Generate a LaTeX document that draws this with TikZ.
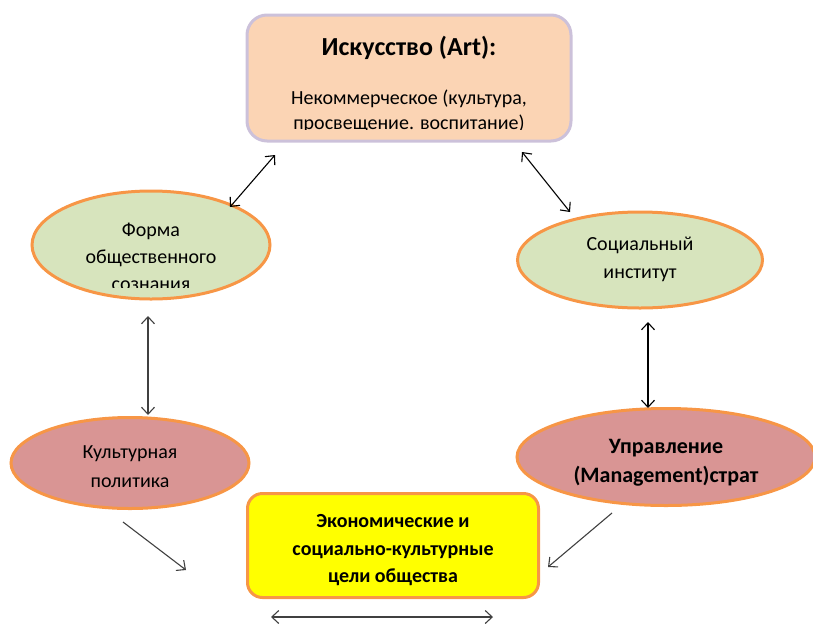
\documentclass[tikz,border=0pt]{standalone}
\usepackage{fontspec}
\setmainfont{Carlito}
\usetikzlibrary{arrows.meta,shapes.geometric}
\definecolor{peach}{HTML}{FBD4B4}
\definecolor{lav}{HTML}{CCC1DA}
\definecolor{sage}{HTML}{D7E4BD}
\definecolor{orng}{HTML}{F79646}
\definecolor{rose}{HTML}{D99594}
\definecolor{yel}{HTML}{FFFF00}
\definecolor{dgray}{HTML}{404040}
\tikzset{
  ell/.style={ellipse, draw=orng, line width=3pt, inner sep=0pt},
  txt/.style={anchor=base, inner sep=0pt, font=\fontsize{20}{24}\selectfont},
  btxt/.style={anchor=base, inner sep=0pt, font=\bfseries\fontsize{20}{24}\selectfont},
  link/.style={line width=1.1pt, {Straight Barb[length=7pt,width=13pt]}-{Straight Barb[length=7pt,width=13pt]}},
  onelink/.style={line width=1.1pt, -{Straight Barb[length=7pt,width=13pt]}}
}
\begin{document}
\begin{tikzpicture}[x=1pt,y=-1pt]
\useasboundingbox (0,0) rectangle (813,624);
% top box
\node[draw=lav, fill=peach, line width=3pt, rounded corners=20pt, minimum width=324pt, minimum height=126pt, inner sep=0pt] (art) at (409,78) {};
\node[anchor=base, inner sep=0pt, font=\bfseries\fontsize{26}{30}\selectfont] (artT) at (409,55) {Искусство (Art):};
\begin{scope}
\clip (250,80) rectangle (570,129);
\node[txt] (artA) at (409,104) {Некоммерческое (культура,};
\node[txt] (artB) at (409,129) {просвещение. воспитание)};
\end{scope}
% left ellipse
\node[ell, fill=sage, minimum width=238pt, minimum height=108pt] (forma) at (151,245) {};
\begin{scope}
\clip (40,200) rectangle (260,287.5);
\node[txt] (formaA) at (151,236) {Форма};
\node[txt] (formaB) at (151,263) {общественного};
\node[txt] (formaC) at (151,290) {сознания};
\end{scope}
% right ellipse
\node[ell, fill=sage, minimum width=245pt, minimum height=96pt] (inst) at (640,260) {};
\node[txt] (instA) at (640,250) {Социальный};
\node[txt] (instB) at (640,278) {институт};
% bottom-left ellipse
\node[ell, fill=rose, minimum width=238pt, minimum height=91pt] (kult) at (130,463) {};
\node[txt] (kultA) at (130,458) {Культурная};
\node[txt] (kultB) at (130,487) {политика};
% bottom-right ellipse
\node[ell, fill=rose, minimum width=298pt, minimum height=97pt] (upr) at (666,457) {};
\node[anchor=base, inner sep=0pt, font=\bfseries\fontsize{22}{26}\selectfont] (uprA) at (666,453) {Управление};
\node[anchor=base, inner sep=0pt, font=\bfseries\fontsize{22}{26}\selectfont] (uprB) at (666,482) {(Management)страт};
% bottom box
\node[draw=orng, fill=yel, line width=3pt, rounded corners=15pt, minimum width=291pt, minimum height=104pt, inner sep=0pt] (goal) at (393,545.5) {};
\node[btxt] (goalA) at (393,527) {Экономические и};
\node[btxt] (goalB) at (393,555) {социально-культурные};
\node[btxt] (goalC) at (393,582) {цели общества};
% connector ends
\coordinate (p1) at (275,155); \coordinate (p2) at (230,207);
\coordinate (p3) at (522,152); \coordinate (p4) at (570,212);
\coordinate (p5) at (148,316); \coordinate (p6) at (148,415);
\coordinate (p7) at (648,322); \coordinate (p8) at (648,408);
\coordinate (p9) at (123,522); \coordinate (p10) at (186,570);
\coordinate (p11) at (612,513); \coordinate (p12) at (548,567);
\coordinate (p13) at (271,617); \coordinate (p14) at (493,617);
\draw[link, black] (p1) -- (p2);
\draw[link, black] (p3) -- (p4);
\draw[link, dgray] (p5) -- (p6);
\draw[link, black] (p7) -- (p8);
\draw[onelink, dgray] (p9) -- (p10);
\draw[onelink, dgray] (p11) -- (p12);
\draw[link, dgray] (p13) -- (p14);
\end{tikzpicture}
\end{document}
